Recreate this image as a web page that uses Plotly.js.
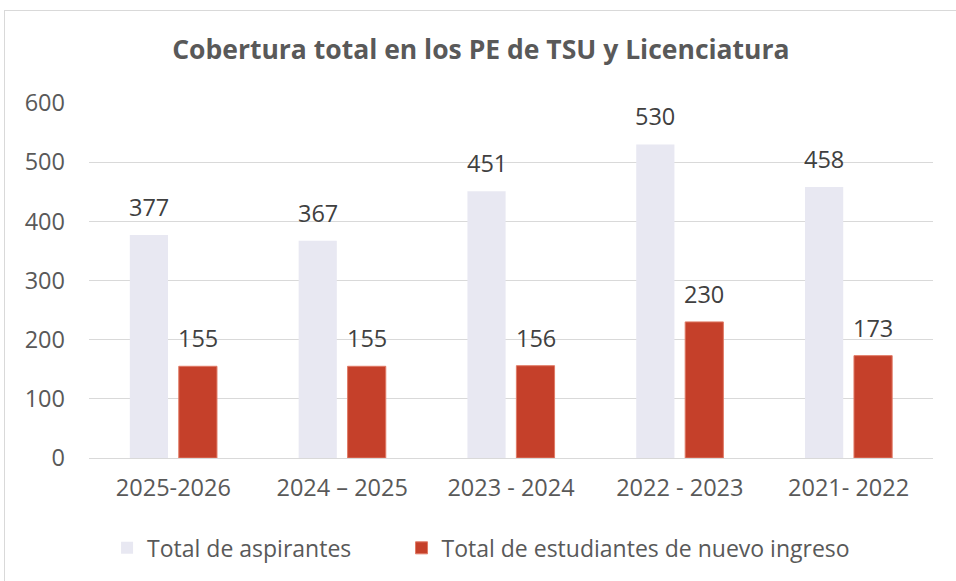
<!DOCTYPE html>
<html><head><meta charset="utf-8">
<script src="https://cdn.plot.ly/plotly-3.0.1.min.js"></script>
<style>body{margin:0;overflow:hidden;background:#fff}#frame{position:absolute;left:4px;top:10px;width:1000px;height:1000px;border:1px solid #d9d9d9;pointer-events:none}#chart{position:absolute;left:0;top:0;width:956px;height:581px}</style>
</head><body>
<div id="chart"></div><div id="frame"></div>
<script>
const categories = ["2025-2026", "2024 \u2013 2025", "2023 - 2024", "2022 - 2023", "2021- 2022"];
const aspirantes = [377, 367, 451, 530, 458];
const nuevoIngreso = [155, 155, 156, 230, 173];
const seriesNames = ["Total de aspirantes", "Total de estudiantes de nuevo ingreso"];
const font = "'Open Sans', sans-serif";
const traces = [
 {type:'bar', x:categories, y:aspirantes, name:seriesNames[0], marker:{color:'#E8E8F2'}, legend:'legend'},
 {type:'bar', x:categories, y:nuevoIngreso, name:seriesNames[1], marker:{color:'#C5402A', line:{color:'#E07A66', width:1}}, legend:'legend2'}
];
const annotations = [];
const labelFont = {size:23.5, color:'#404040', family:font};
[aspirantes, nuevoIngreso].forEach((vals, s) => {
  vals.forEach((v, i) => {
    annotations.push({x:categories[i], y:v, xref:'x', yref:'y', text:String(v), showarrow:false, yanchor:'bottom', xanchor:'center', xshift:(s===0?-24.5:24.5), yshift:10, font:labelFont});
  });
});
const layout = {
 width:956, height:581,
 margin:{l:89, r:23, t:103, b:123},
 paper_bgcolor:'rgba(0,0,0,0)', plot_bgcolor:'#fff',
 font:{family:font, color:'#595959', size:23},
 title:{text:'<b>Cobertura total en los PE de TSU y Licenciatura</b>', x:0.503, xref:'container', xanchor:'center', y:0.915, yanchor:'middle', font:{size:26.5, color:'#595959', family:font}},
 barmode:'group', bargap:0.42, bargroupgap:0.22,
 xaxis:{type:'category', tickfont:{size:23.5,color:'#595959'}, showgrid:false, showline:true, linecolor:'#d9d9d9', linewidth:1, ticks:'', ticklabelstandoff:9},
 yaxis:{range:[0,600], dtick:100, tickfont:{size:23.5,color:'#595959'}, gridcolor:'#d9d9d9', gridwidth:1, zeroline:false, showline:false, ticklabelstandoff:23},
 legend:{orientation:'h', x:0.112, xanchor:'left', xref:'container', y:0.057, yref:'container', yanchor:'middle', font:{size:23,color:'#595959'}, bgcolor:'rgba(0,0,0,0)'},
 legend2:{orientation:'h', x:0.42, xanchor:'left', xref:'container', y:0.057, yref:'container', yanchor:'middle', font:{size:23,color:'#595959'}, bgcolor:'rgba(0,0,0,0)'},
 annotations: annotations,
 showlegend:true
};
Plotly.newPlot('chart', traces, layout, {displayModeBar:false, staticPlot:true});
</script></body></html>
